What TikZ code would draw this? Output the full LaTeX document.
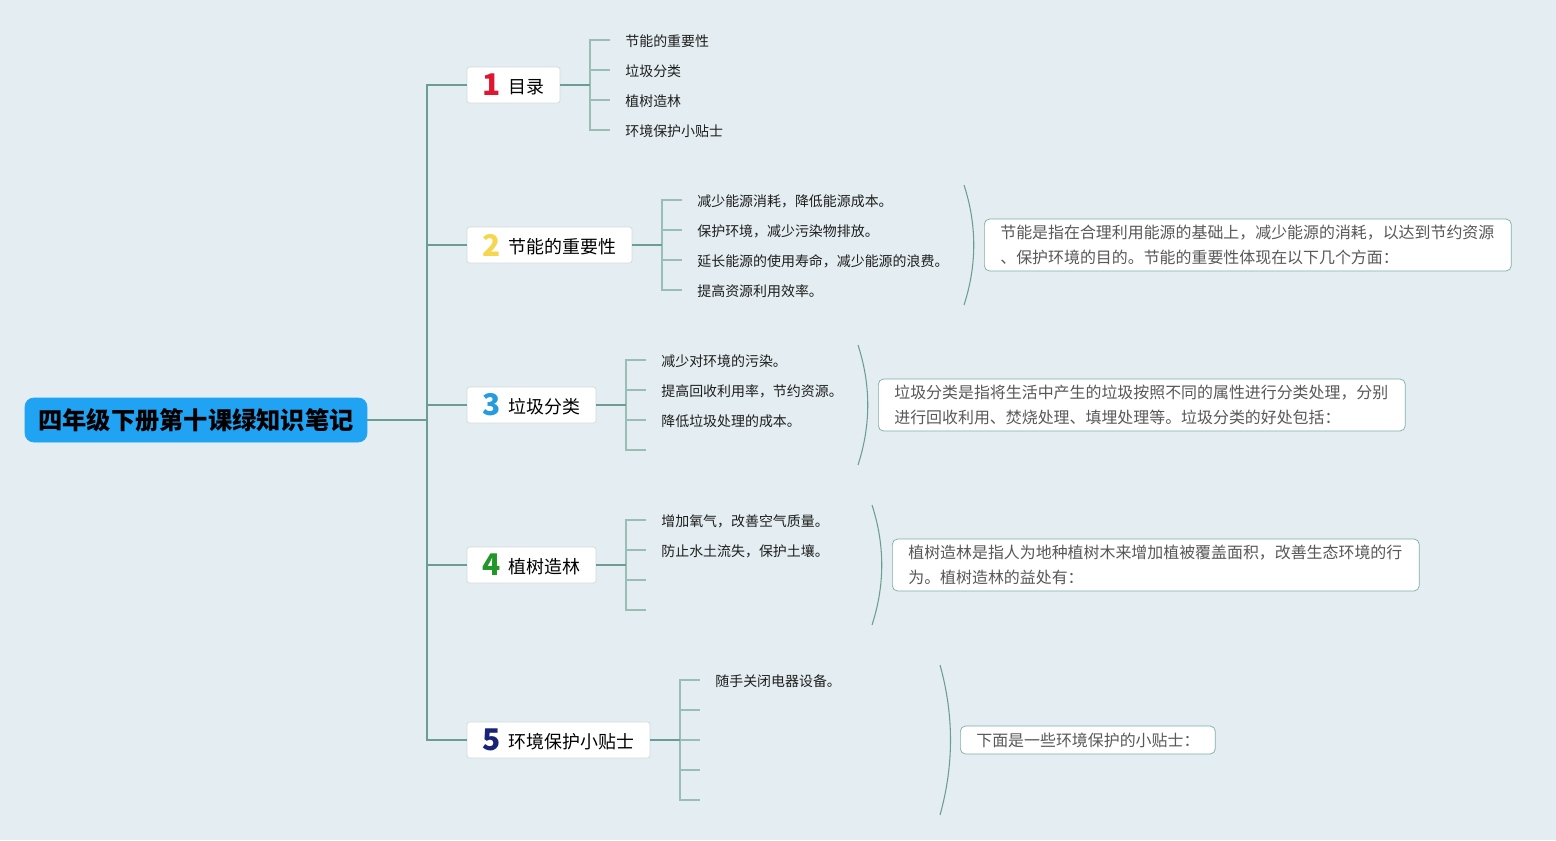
\documentclass[tikz,border=0pt]{standalone}
\usepackage{fontspec}
\setmainfont{Noto Sans CJK SC}
\usepackage{xcolor}
\definecolor{bgblue}{RGB}{228,237,241}
\definecolor{rootblue}{RGB}{32,163,243}
\definecolor{linegreen}{RGB}{106,158,148}
\definecolor{twiggreen}{RGB}{152,190,182}
\definecolor{boxgray}{RGB}{212,219,222}
\definecolor{notegray}{RGB}{88,88,88}
\definecolor{noteline}{RGB}{124,174,164}
\definecolor{leafblack}{RGB}{30,30,30}
\definecolor{numred}{RGB}{222,22,48}
\definecolor{numyellow}{RGB}{246,214,78}
\definecolor{numblue}{RGB}{36,156,222}
\definecolor{numgreen}{RGB}{34,150,40}
\definecolor{numnavy}{RGB}{24,34,118}

% Nummer vor dem Thema
\newcommand{\topicno}[3]{{\color{#1}\fontsize{17pt}{17pt}\selectfont\bfseries #2}\hspace{4.5pt}\raisebox{1.5pt}{#3}}

\begin{document}
\begin{tikzpicture}[x=0.02cm, y=-0.02cm,
    root/.style={fill=rootblue, draw=rootblue, rounded corners=5pt, minimum width=6.84cm, minimum height=0.88cm, font=\fontsize{13.8pt}{16pt}\selectfont\bfseries},
    topic/.style={fill=white, draw=boxgray, rounded corners=1.5pt, minimum height=0.72cm, inner xsep=0pt, font=\fontsize{10.2pt}{12pt}\selectfont},
    leaf/.style={anchor=west, inner sep=0pt, text=leafblack, font=\fontsize{7.94pt}{9.5pt}\selectfont},
    note/.style={anchor=west, fill=white, draw=noteline, rounded corners=3pt, text=notegray, align=left, inner xsep=0.32cm, font=\fontsize{9.07pt}{14.2pt}\selectfont},
    trunk/.style={linegreen, line width=1.1pt},
    twig/.style={twiggreen, line width=1.1pt},
    brace/.style={linegreen, line width=0.6pt}]

    % Hintergrund
    \fill[bgblue] (0,0) rectangle (1556,840);
    \useasboundingbox (0,0) rectangle (1556,840);

    % ==========================================
    % WURZEL UND HAUPTTHEMEN
    % ==========================================
    \node[root] (root) at (196,420) {四年级下册第十课绿知识笔记};

    \node[topic, minimum width=1.86cm] (t1) at (513.5,85) {\topicno{numred}{1}{目录}};
    \node[topic, minimum width=3.30cm] (t2) at (549.5,245) {\topicno{numyellow}{2}{节能的重要性}};
    \node[topic, minimum width=2.58cm] (t3) at (531.5,405) {\topicno{numblue}{3}{垃圾分类}};
    \node[topic, minimum width=2.58cm] (t4) at (531.5,565) {\topicno{numgreen}{4}{植树造林}};
    \node[topic, minimum width=3.66cm] (t5) at (558.5,740) {\topicno{numnavy}{5}{环境保护小贴士}};

    % Stamm
    \coordinate (spine) at (427,420);
    \draw[trunk] (root.east) -- (spine);
    \foreach \t in {t1,t2,t3,t4,t5}
        \draw[trunk] (spine) |- (\t.west);

    % ==========================================
    % THEMA 1: Inhalt
    % ==========================================
    \coordinate (k1) at (590,85);
    \node[leaf] (l11) at (625,41) {节能的重要性};
    \node[leaf] (l12) at (625,71) {垃圾分类};
    \node[leaf] (l13) at (625,101) {植树造林};
    \node[leaf] (l14) at (625,131) {环境保护小贴士};
    \foreach \l in {l11,l12,l13,l14}
        \draw[twig] (k1) |- ([xshift=-0.3cm, yshift=0.02cm]\l.west);
    \draw[trunk] (t1.east) -- (k1);

    % ==========================================
    % THEMA 2: Energiesparen
    % ==========================================
    \coordinate (k2) at (662,245);
    \node[leaf] (l21) at (697,201) {减少能源消耗，降低能源成本。};
    \node[leaf] (l22) at (697,231) {保护环境，减少污染物排放。};
    \node[leaf] (l23) at (697,261) {延长能源的使用寿命，减少能源的浪费。};
    \node[leaf] (l24) at (697,291) {提高资源利用效率。};
    \foreach \l in {l21,l22,l23,l24}
        \draw[twig] (k2) |- ([xshift=-0.3cm, yshift=0.02cm]\l.west);
    \draw[trunk] (t2.east) -- (k2);

    \draw[brace] (964,185) .. controls (977,225) and (977,265) .. (964,305);
    \node[note, text width=9.9cm, minimum height=1.04cm] (n2) at (984,245)
        {节能是指在合理利用能源的基础上，减少能源的消耗，以达到节约资源\\、保护环境的目的。节能的重要性体现在以下几个方面：};

    % ==========================================
    % THEMA 3: Muelltrennung
    % ==========================================
    \coordinate (k3) at (626,405);
    \node[leaf] (l31) at (661,361) {减少对环境的污染。};
    \node[leaf] (l32) at (661,391) {提高回收利用率，节约资源。};
    \node[leaf] (l33) at (661,421) {降低垃圾处理的成本。};
    \coordinate (l34) at (661,451);
    \foreach \l in {l31,l32,l33,l34}
        \draw[twig] (k3) |- ([xshift=-0.3cm, yshift=0.02cm]\l.west);
    \draw[trunk] (t3.east) -- (k3);

    \draw[brace] (858,345) .. controls (871,385) and (871,425) .. (858,465);
    \node[note, text width=9.9cm, minimum height=1.04cm] (n3) at (878,405)
        {垃圾分类是指将生活中产生的垃圾按照不同的属性进行分类处理，分别\\进行回收利用、焚烧处理、填埋处理等。垃圾分类的好处包括：};

    % ==========================================
    % THEMA 4: Aufforstung
    % ==========================================
    \coordinate (k4) at (626,565);
    \node[leaf] (l41) at (661,521) {增加氧气，改善空气质量。};
    \node[leaf] (l42) at (661,551) {防止水土流失，保护土壤。};
    \coordinate (l43) at (661,581);
    \coordinate (l44) at (661,611);
    \foreach \l in {l41,l42,l43,l44}
        \draw[twig] (k4) |- ([xshift=-0.3cm, yshift=0.02cm]\l.west);
    \draw[trunk] (t4.east) -- (k4);

    \draw[brace] (872,505) .. controls (885,545) and (885,585) .. (872,625);
    \node[note, text width=9.9cm, minimum height=1.04cm] (n4) at (892,565)
        {植树造林是指人为地种植树木来增加植被覆盖面积，改善生态环境的行\\为。植树造林的益处有：};

    % ==========================================
    % THEMA 5: Tipps
    % ==========================================
    \coordinate (k5) at (680,740);
    \node[leaf] (l51) at (715,681) {随手关闭电器设备。};
    \coordinate (l52) at (715,711);
    \coordinate (l53) at (715,741);
    \coordinate (l54) at (715,771);
    \coordinate (l55) at (715,801);
    \foreach \l in {l51,l52,l53,l54,l55}
        \draw[twig] (k5) |- ([xshift=-0.3cm, yshift=0.02cm]\l.west);
    \draw[trunk] (t5.east) -- (k5);

    \draw[brace] (940,665) .. controls (954,715) and (954,765) .. (940,815);
    \node[note, text width=4.46cm, minimum height=0.56cm] (n5) at (960,740)
        {下面是一些环境保护的小贴士：};

\end{tikzpicture}
\end{document}
